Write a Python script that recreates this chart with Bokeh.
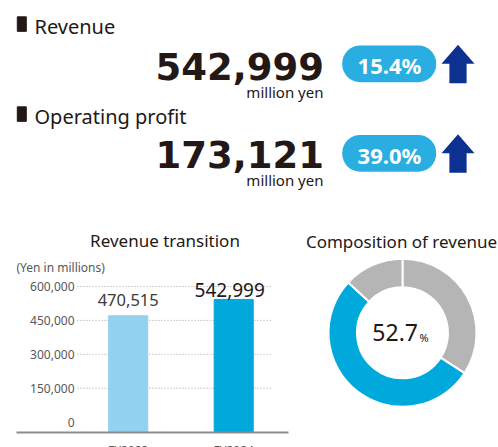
import math
from bokeh.plotting import figure
from bokeh.layouts import column, row
from bokeh.models import Range1d, FixedTicker, NumeralTickFormatter
from bokeh.core.properties import value
from bokeh.embed import file_html
from bokeh.resources import INLINE

# ---------------- data ----------------
kpi_names = ["Revenue", "Operating profit"]
kpi_values = [542999, 173121]
kpi_unit = "million yen"
kpi_growth = [15.4, 39.0]

bar_title = "Revenue transition"
y_unit_label = "(Yen in millions)"
fiscal_years = ["FY2023", "FY2024"]
revenue = [470515, 542999]
y_ticks = [0, 150000, 300000, 450000, 600000]

pie_title = "Composition of revenue"
composition = [34.2, 52.7, 13.1]   # clockwise from 12 o'clock
highlight = 1

# ---------------- styles ----------------
INK = "#231815"
GRAY_TXT = "#595757"
PILL = "#2aade1"
ARROW = "#0d3190"
BAR_COLORS = ["#93d2ef", "#00a8dc"]
DONUT_COLORS = ["#b5b5b5", "#00a9dc", "#b5b5b5"]
FONT = value("Noto Sans")
MID = "middle"   # texts are anchored on the middle of their capitals


def py(v):
    """page pixel row -> data y of the header figure (y grows upward)"""
    return -v


def blank(width, height, x_range, y_range):
    f = figure(width=width, height=height, x_range=x_range, y_range=y_range,
               x_axis_type=None, y_axis_type=None, output_backend="svg",
               toolbar_location=None, title=None, min_border=0)
    f.grid.visible = False
    f.outline_line_color = None
    return f


# ---------------- top (KPI) section ----------------
TOP_H = 252
top = blank(498, TOP_H, Range1d(0, 498), Range1d(-TOP_H, 0))

rows = range(len(kpi_names))
head_dy = [i * 90 for i in rows]
val_dy = [i * 88 for i in rows]
pill_dy = [i * 89.5 for i in rows]

top.rect(x=21.3, y=[py(23.6 + d) for d in head_dy], width=9, height=14.5, color=INK)
top.text(x=34, y=[py(25.6 + d) for d in head_dy], text=kpi_names, text_font=FONT,
         text_font_size="20px", text_baseline=MID, text_color=INK)
top.text(x=323.5, y=[py(65.7 + d) for d in val_dy], text=[f"{v:,}" for v in kpi_values],
         text_font=value("DejaVu Sans"), text_font_style="bold", text_font_size="37px",
         text_align="right", text_baseline=MID, text_color=INK)
top.text(x=323, y=[py(91.5 + d) for d in val_dy], text=[kpi_unit] * len(kpi_values),
         text_font=FONT, text_font_size="15px", text_align="right",
         text_baseline=MID, text_color=INK)
top.rect(x=388.7, y=[py(63.3 + d) for d in pill_dy], width=94, height=36.7, border_radius=18,
         fill_color=PILL, line_color=None)
top.text(x=389, y=[py(64.8 + d) for d in pill_dy], text=[f"{g:.1f}%" for g in kpi_growth],
         text_font=FONT, text_font_style="bold", text_font_size="22px",
         text_align="center", text_baseline=MID, text_color="white")

cx, hw, sw = 457.5, 16.5, 8.6
xs, ys = [], []
for g, d in zip(kpi_growth, pill_dy):
    if g > 0:
        xs.append([cx - hw, cx, cx + hw, cx + sw, cx + sw, cx - sw, cx - sw])
        ys.append([py(y + d) for y in [63.3, 44.3, 63.3, 63.3, 82.7, 82.7, 63.3]])
top.patches(xs=xs, ys=ys, fill_color=ARROW, line_color=None)

top.text(x=[164.5, 401], y=[py(240.3), py(240.8)], text=[bar_title, pie_title],
         text_font=FONT, text_font_size="17px", text_align="center", text_baseline=MID,
         text_color=INK)

# ---------------- bar chart ----------------
BAR_W = 300
ZERO_PX = 421.6                  # page row of the value 0
PX_PER_UNIT = 101.7 / 450000     # vertical scale of the bar chart


def val_at(page_y):
    return (ZERO_PX - page_y) / PX_PER_UNIT


Y_MIN, Y_MAX = val_at(432), val_at(TOP_H)
X_MIN, X_MAX = -1.0588, 1.5194
idx = list(range(len(fiscal_years)))
bar = figure(width=BAR_W, height=447 - TOP_H, frame_height=432 - TOP_H,
             x_range=Range1d(X_MIN, X_MAX), y_range=Range1d(Y_MIN, Y_MAX),
             output_backend="svg", toolbar_location=None, title=None,
             min_border_left=16, min_border_right=BAR_W - 288, min_border_top=0,
             min_border_bottom=0)
bar.grid.visible = False
bar.outline_line_color = None

bar.text(x=X_MIN, y=val_at(266.7), text=[y_unit_label], text_font=FONT,
         text_font_size="12px", text_baseline=MID, text_align="left", text_color=GRAY_TXT)

grid_vals = [t for t in y_ticks if t > 0]
bar.segment(x0=-0.4806, x1=1.3488, y0=grid_vals, y1=grid_vals,
            line_color="#a3a3a3", line_dash="1 2", line_width=1)
bar.vbar(x=idx, top=revenue, bottom=Y_MIN, width=0.37, color=BAR_COLORS)

bar.text(x=idx[:-1], y=revenue[:-1], text=[f"{v:,}" for v in revenue[:-1]],
         y_offset=-15.5, text_font=FONT, text_font_size="16.5px", text_align="center",
         text_baseline=MID, text_color="#3e3a39")
bar.text(x=idx[-1:], y=revenue[-1:], text=[f"{v:,}" for v in revenue[-1:]],
         y_offset=-9.2, x_offset=-4, text_font=FONT, text_font_size="19px",
         text_align="center", text_baseline=MID, text_color=INK)

ya = bar.yaxis[0]
ya.ticker = FixedTicker(ticks=y_ticks)
ya.formatter = NumeralTickFormatter(format="0,0")
ya.major_label_standoff = -58
ya.axis_line_color = None
ya.major_tick_line_color = None
ya.minor_tick_line_color = None
ya.major_tick_out = 0
ya.major_tick_in = 0
ya.major_label_text_font = "Noto Sans"
ya.major_label_text_font_size = "12px"
ya.major_label_text_color = GRAY_TXT

xa = bar.xaxis[0]
xa.ticker = FixedTicker(ticks=idx)
xa.major_label_overrides = {i: fy for i, fy in zip(idx, fiscal_years)}
xa.axis_line_color = "#8c8c8c"
xa.axis_line_width = 2
xa.major_tick_line_color = None
xa.minor_tick_line_color = None
xa.major_tick_out = 0
xa.major_tick_in = 0
xa.major_label_standoff = 9
xa.major_label_text_font = "Noto Sans"
xa.major_label_text_font_size = "12px"
xa.major_label_text_color = GRAY_TXT

# ---------------- donut ----------------
pie = blank(498 - BAR_W, 447 - TOP_H, Range1d(-102, 96), Range1d(-100.7, 94.3))

starts, ends, acc = [], [], 0.0
for share in composition:
    starts.append(math.pi / 2 - 2 * math.pi * acc / 100)
    acc += share
    ends.append(math.pi / 2 - 2 * math.pi * acc / 100)
pie.annular_wedge(x=0, y=0, inner_radius=45.5, outer_radius=74,
                  start_angle=starts, end_angle=ends, direction="clock",
                  fill_color=DONUT_COLORS, line_color="white", line_width=2)
pie.text(x=0, y=0, text=[f"{composition[highlight]:.1f}"], x_offset=15.5, y_offset=0,
         text_font=FONT, text_font_size="23px", text_align="right",
         text_baseline=MID, text_color=INK)
pie.text(x=0, y=0, text=["%"], x_offset=17, y_offset=4.8, text_font=FONT,
         text_font_size="11px", text_align="left", text_baseline=MID, text_color=INK)

layout = column(top, row(bar, pie))
open("out.html", "w").write(file_html(layout, INLINE))
